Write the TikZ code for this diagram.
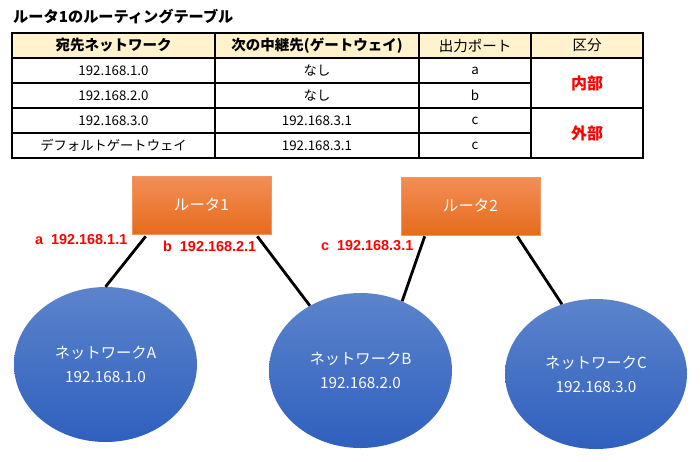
\documentclass[tikz,border=0pt]{standalone}
\usepackage{fontspec}
\setmainfont{Noto Sans CJK JP}
\newfontfamily\labfont{Liberation Sans}
\usetikzlibrary{shapes.geometric,calc}
\definecolor{hdr}{RGB}{255,242,204}
\definecolor{ortop}{RGB}{242,142,86}
\definecolor{orbot}{RGB}{230,108,28}
\definecolor{orline}{RGB}{240,150,100}
\definecolor{bltop}{RGB}{92,132,204}
\definecolor{blbot}{RGB}{47,96,190}
\definecolor{lred}{RGB}{255,0,0}
\begin{document}
\begin{tikzpicture}[x=1pt,y=-1pt,
  cell/.style={draw=black,line width=1.1pt,inner sep=0pt,minimum height=25pt,
    font=\fontsize{13.3}{15}\selectfont},
  hcell/.style={cell,fill=hdr,font=\fontsize{14.5}{16}\selectfont},
  router/.style={rectangle,draw=orline,line width=0.6pt,top color=ortop,bottom color=orbot,
    minimum width=139pt,minimum height=58pt,inner sep=0pt,text=white,
    font=\fontsize{15.5}{18}\selectfont},
  net/.style={ellipse,top color=bltop,bottom color=blbot,inner sep=0pt,
    text=white,align=center,font=\fontsize{15.3}{24}\selectfont},
  link/.style={line width=2.8pt,black},
  lab/.style={anchor=west,inner sep=0pt,text=lred,font=\labfont\bfseries\fontsize{14.4}{16}\selectfont},
  kubun/.style={cell,minimum width=112pt,minimum height=50pt,text=lred,
    font=\bfseries\fontsize{16}{18}\selectfont}]
\useasboundingbox (0,0) rectangle (700,461);
% title
\node[anchor=west,inner sep=0pt,font=\bfseries\fontsize{15.2}{18}\selectfont] (title) at (13,17) {ルータ1のルーティングテーブル};
% header row
\node[hcell,minimum width=203pt,font=\bfseries\fontsize{14.5}{16}\selectfont] (h1) at (113.5,45.5) {宛先ネットワーク};
\node[hcell,minimum width=204pt,font=\bfseries\fontsize{14.5}{16}\selectfont] (h2) at (317,45.5) {次の中継先(ゲートウェイ)};
\node[hcell,minimum width=112pt] (h3) at (475,45.5) {出力ポート};
\node[hcell,minimum width=112pt] (h4) at (587,45.5) {区分};
% rows
\node[cell,minimum width=203pt] (a1) at (113.5,70.5) {192.168.1.0};
\node[cell,minimum width=204pt] (a2) at (317,70.5) {なし};
\node[cell,minimum width=112pt] (a3) at (475,70.5) {a};
\node[cell,minimum width=203pt] (b1) at (113.5,95.5) {192.168.2.0};
\node[cell,minimum width=204pt] (b2) at (317,95.5) {なし};
\node[cell,minimum width=112pt] (b3) at (475,95.5) {b};
\node[cell,minimum width=203pt] (c1) at (113.5,120.5) {192.168.3.0};
\node[cell,minimum width=204pt] (c2) at (317,120.5) {192.168.3.1};
\node[cell,minimum width=112pt] (c3) at (475,120.5) {c};
\node[cell,minimum width=203pt] (d1) at (113.5,145.5) {デフォルトゲートウェイ};
\node[cell,minimum width=204pt] (d2) at (317,145.5) {192.168.3.1};
\node[cell,minimum width=112pt] (d3) at (475,145.5) {c};
\node[kubun] (k1) at (587,83) {内部};
\node[kubun] (k2) at (587,133) {外部};
% routers
\node[router] (r1) at (201.5,205) {ルータ1};
\node[router] (r2) at (470.5,206) {ルータ2};
% networks
\node[net,minimum width=183pt,minimum height=155pt] (na) at (105.5,364.5) {ネットワークA\\192.168.1.0};
\node[net,minimum width=183pt,minimum height=155pt] (nb) at (360.5,370.5) {ネットワークB\\192.168.2.0};
\node[net,minimum width=182pt,minimum height=150pt] (nc) at (596,374) {ネットワークC\\192.168.3.0};
% links
\draw[link] ($(r1.south west)+(14,2)$) -- (na.north);
\draw[link] ($(r1.south east)+(-14,2)$) -- (nb.128);
\draw[link] ($(r2.south west)+(24,1)$) -- (nb.59);
\draw[link] ($(r2.south east)+(-23,1)$) -- (nc.116);
% labels
\node[lab] (la) at (35,240) {a\ \ 192.168.1.1};
\node[lab] (lb) at (163,246) {b\ \ 192.168.2.1};
\node[lab] (lc) at (321,246) {c\ \ 192.168.3.1};
\end{tikzpicture}
\end{document}
